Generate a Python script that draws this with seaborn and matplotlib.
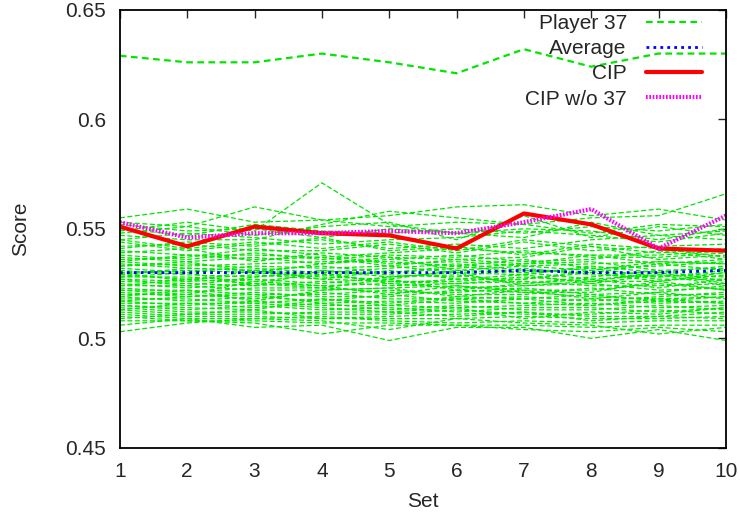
import numpy as np
import pandas as pd
import matplotlib
matplotlib.use('Agg')
import matplotlib.pyplot as plt
import seaborn as sns
from matplotlib.lines import Line2D

sets = [1, 2, 3, 4, 5, 6, 7, 8, 9, 10]

player37 = [0.629, 0.626, 0.626, 0.630, 0.626, 0.621, 0.632, 0.624, 0.630, 0.630]
average = [0.530, 0.530, 0.530, 0.530, 0.530, 0.530, 0.531, 0.530, 0.530, 0.531]
cip = [0.551, 0.542, 0.551, 0.548, 0.547, 0.541, 0.557, 0.552, 0.541, 0.540]
cip_wo37 = [0.553, 0.546, 0.548, 0.548, 0.549, 0.548, 0.553, 0.559, 0.541, 0.556]

# remaining players
other_players = [
    [0.555, 0.559, 0.553, 0.554, 0.556, 0.560, 0.561, 0.556, 0.559, 0.554],
    [0.553, 0.551, 0.560, 0.554, 0.551, 0.553, 0.552, 0.555, 0.556, 0.566],
    [0.549, 0.553, 0.549, 0.571, 0.552, 0.548, 0.550, 0.549, 0.545, 0.550],
    [0.547, 0.545, 0.545, 0.552, 0.558, 0.555, 0.552, 0.548, 0.552, 0.551],
    [0.545, 0.548, 0.546, 0.543, 0.545, 0.546, 0.549, 0.547, 0.544, 0.548],
    [0.544, 0.540, 0.543, 0.545, 0.541, 0.543, 0.541, 0.545, 0.547, 0.545],
    [0.542, 0.543, 0.540, 0.540, 0.543, 0.539, 0.544, 0.540, 0.542, 0.543],
    [0.540, 0.538, 0.538, 0.537, 0.539, 0.541, 0.539, 0.538, 0.538, 0.540],
    [0.539, 0.541, 0.535, 0.539, 0.537, 0.536, 0.537, 0.542, 0.536, 0.538],
    [0.537, 0.535, 0.537, 0.534, 0.536, 0.538, 0.535, 0.536, 0.540, 0.536],
    [0.536, 0.537, 0.541, 0.538, 0.534, 0.535, 0.533, 0.534, 0.535, 0.534],
    [0.535, 0.533, 0.534, 0.535, 0.535, 0.533, 0.536, 0.532, 0.533, 0.535],
    [0.534, 0.532, 0.531, 0.533, 0.530, 0.532, 0.534, 0.535, 0.531, 0.532],
    [0.533, 0.534, 0.532, 0.530, 0.532, 0.534, 0.531, 0.530, 0.534, 0.531],
    [0.532, 0.530, 0.533, 0.532, 0.533, 0.530, 0.529, 0.533, 0.530, 0.533],
    [0.531, 0.529, 0.528, 0.531, 0.529, 0.528, 0.532, 0.529, 0.528, 0.530],
    [0.530, 0.531, 0.530, 0.528, 0.527, 0.531, 0.530, 0.527, 0.529, 0.528],
    [0.529, 0.527, 0.529, 0.527, 0.531, 0.527, 0.527, 0.531, 0.527, 0.527],
    [0.528, 0.528, 0.526, 0.529, 0.526, 0.526, 0.528, 0.526, 0.526, 0.529],
    [0.527, 0.526, 0.527, 0.525, 0.528, 0.529, 0.525, 0.528, 0.531, 0.526],
    [0.526, 0.525, 0.524, 0.526, 0.524, 0.525, 0.526, 0.524, 0.524, 0.525],
    [0.525, 0.523, 0.525, 0.524, 0.525, 0.523, 0.524, 0.525, 0.522, 0.523],
    [0.524, 0.524, 0.522, 0.522, 0.523, 0.524, 0.522, 0.522, 0.525, 0.522],
    [0.523, 0.521, 0.523, 0.523, 0.521, 0.521, 0.523, 0.520, 0.521, 0.524],
    [0.522, 0.522, 0.520, 0.520, 0.522, 0.520, 0.520, 0.523, 0.520, 0.520],
    [0.521, 0.519, 0.521, 0.519, 0.519, 0.522, 0.521, 0.519, 0.518, 0.519],
    [0.520, 0.520, 0.518, 0.521, 0.518, 0.518, 0.519, 0.517, 0.519, 0.521],
    [0.519, 0.517, 0.519, 0.517, 0.520, 0.517, 0.516, 0.518, 0.516, 0.517],
    [0.518, 0.518, 0.516, 0.518, 0.516, 0.519, 0.518, 0.515, 0.517, 0.516],
    [0.517, 0.515, 0.517, 0.515, 0.515, 0.514, 0.515, 0.516, 0.514, 0.515],
    [0.516, 0.516, 0.514, 0.516, 0.513, 0.515, 0.513, 0.513, 0.515, 0.513],
    [0.515, 0.513, 0.515, 0.513, 0.514, 0.512, 0.514, 0.514, 0.512, 0.514],
    [0.514, 0.512, 0.512, 0.511, 0.511, 0.513, 0.511, 0.511, 0.513, 0.511],
    [0.513, 0.511, 0.511, 0.512, 0.512, 0.510, 0.512, 0.510, 0.510, 0.512],
    [0.512, 0.510, 0.510, 0.509, 0.509, 0.509, 0.510, 0.509, 0.509, 0.510],
    [0.511, 0.509, 0.509, 0.510, 0.508, 0.507, 0.508, 0.507, 0.508, 0.508],
    [0.510, 0.508, 0.508, 0.507, 0.507, 0.506, 0.506, 0.505, 0.506, 0.506],
    [0.508, 0.508, 0.507, 0.502, 0.506, 0.506, 0.504, 0.503, 0.505, 0.503],
    [0.506, 0.509, 0.505, 0.506, 0.499, 0.505, 0.505, 0.500, 0.504, 0.499],
    [0.503, 0.507, 0.509, 0.508, 0.504, 0.509, 0.507, 0.506, 0.502, 0.505],
    [0.545, 0.541, 0.544, 0.541, 0.544, 0.540, 0.545, 0.542, 0.539, 0.541],
    [0.541, 0.544, 0.542, 0.546, 0.540, 0.542, 0.538, 0.543, 0.541, 0.537],
    [0.538, 0.536, 0.539, 0.536, 0.538, 0.537, 0.540, 0.537, 0.537, 0.539],
    [0.535, 0.538, 0.536, 0.537, 0.533, 0.536, 0.534, 0.538, 0.534, 0.536],
    [0.533, 0.535, 0.530, 0.534, 0.537, 0.531, 0.533, 0.531, 0.535, 0.534],
    [0.529, 0.532, 0.531, 0.529, 0.530, 0.533, 0.530, 0.532, 0.528, 0.531],
    [0.527, 0.524, 0.528, 0.530, 0.525, 0.527, 0.529, 0.525, 0.529, 0.524],
    [0.524, 0.527, 0.525, 0.523, 0.527, 0.522, 0.525, 0.527, 0.523, 0.527],
    [0.522, 0.520, 0.526, 0.524, 0.520, 0.524, 0.521, 0.521, 0.526, 0.522],
    [0.519, 0.522, 0.517, 0.522, 0.523, 0.519, 0.522, 0.518, 0.521, 0.518],
    [0.517, 0.519, 0.520, 0.516, 0.517, 0.516, 0.518, 0.520, 0.517, 0.519],
    [0.515, 0.514, 0.513, 0.518, 0.515, 0.518, 0.516, 0.515, 0.518, 0.516],
    [0.513, 0.516, 0.516, 0.514, 0.512, 0.514, 0.509, 0.512, 0.511, 0.514],
    [0.509, 0.511, 0.513, 0.509, 0.510, 0.511, 0.512, 0.508, 0.510, 0.509],
    [0.550, 0.547, 0.552, 0.549, 0.548, 0.550, 0.548, 0.551, 0.549, 0.552],
    [0.552, 0.549, 0.550, 0.546, 0.550, 0.548, 0.546, 0.553, 0.547, 0.549],
    [0.548, 0.551, 0.547, 0.551, 0.553, 0.545, 0.556, 0.546, 0.551, 0.547],
    [0.530, 0.526, 0.531, 0.527, 0.526, 0.525, 0.527, 0.530, 0.526, 0.530],
    [0.528, 0.530, 0.524, 0.531, 0.528, 0.530, 0.524, 0.526, 0.530, 0.525],
]

GREEN = '#00e600'

sns.set_style('white')
plt.rcParams['font.family'] = ['Liberation Sans', 'DejaVu Sans']

# long table for the individual players
rows = []
for i, vals in enumerate(other_players):
    for s, v in zip(sets, vals):
        rows.append({'Set': s, 'Score': v, 'player': i})
df_players = pd.DataFrame(rows)

fig = plt.figure(figsize=(7.4, 5.13), dpi=100)
ax = fig.add_axes([0.162, 0.127, 0.819, 0.854])

sns.lineplot(data=df_players, x='Set', y='Score', units='player', estimator=None,
             color=GREEN, linewidth=0.9, dashes=False, ax=ax, legend=False,
             linestyle=(0, (4, 2)))
sns.lineplot(x=sets, y=player37, color=GREEN, linewidth=1.6, linestyle=(0, (3, 2)), ax=ax)
sns.lineplot(x=sets, y=average, color='#0000ff', linewidth=2, linestyle=(0, (1, 1.5)), ax=ax)
sns.lineplot(x=sets, y=cip, color='#ff0000', linewidth=3, ax=ax)
sns.lineplot(x=sets, y=cip_wo37, color='#ff00ff', linewidth=3, linestyle=(0, (0.4, 0.4)), ax=ax)

ax.set_xlim(1, 10)
ax.set_ylim(0.45, 0.65)
ax.set_xticks(sets)
ax.set_yticks([0.45, 0.5, 0.55, 0.6, 0.65])
ax.set_yticklabels(['0.45', '0.5', '0.55', '0.6', '0.65'])
ax.tick_params(direction='in', length=6, width=1, top=True, right=True,
               labelsize=15, pad=10)
for sp in ax.spines.values():
    sp.set_color('black')
    sp.set_linewidth(1.3)
ax.set_xlabel('Set', fontsize=15, labelpad=8)
ax.set_ylabel('Score', fontsize=15, labelpad=25)

handles = [
    Line2D([], [], color=GREEN, linewidth=1.6, linestyle=(0, (3, 2))),
    Line2D([], [], color='#0000ff', linewidth=2, linestyle=(0, (1, 1.5))),
    Line2D([], [], color='#ff0000', linewidth=3),
    Line2D([], [], color='#ff00ff', linewidth=3, linestyle=(0, (0.4, 0.4))),
]
ax.legend(handles, ['Player 37', 'Average', 'CIP', 'CIP w/o 37'], loc='upper right',
          bbox_to_anchor=(0.967, 1.0),
          frameon=False, markerfirst=False, fontsize=15, handlelength=2.7,
          labelspacing=0.3, borderaxespad=0.05, borderpad=0.15, handletextpad=0.9)

fig.savefig('out.png', dpi=100)
